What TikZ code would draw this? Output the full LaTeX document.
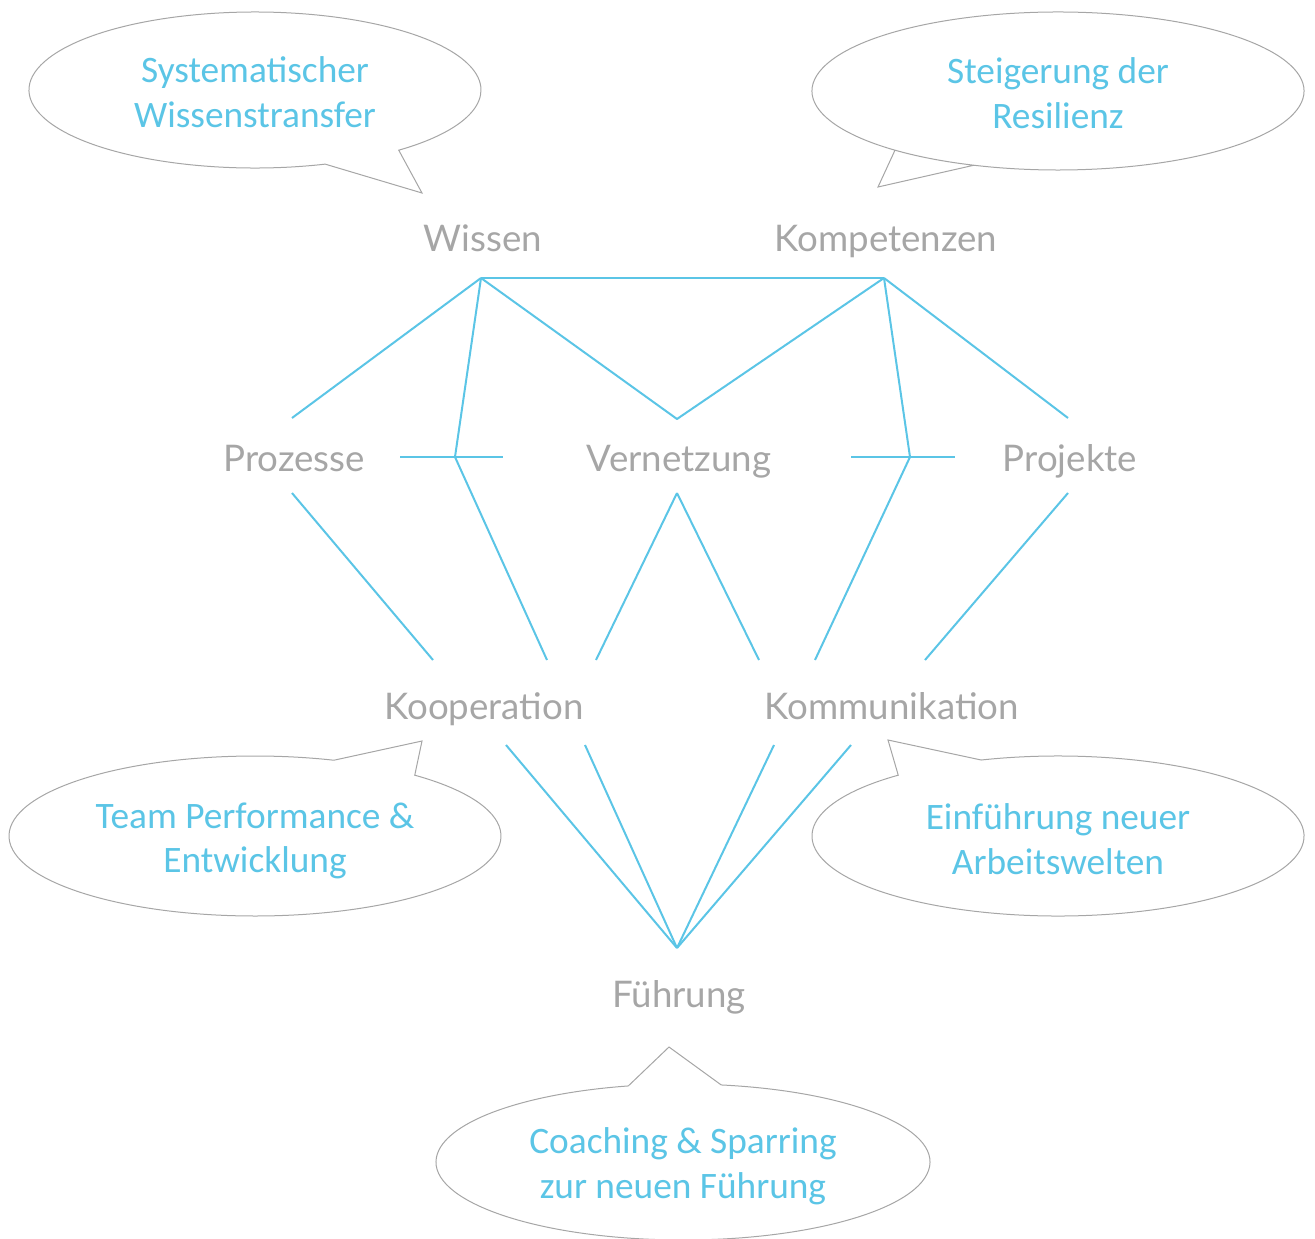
\documentclass[tikz,border=0pt]{standalone}
\usepackage{fontspec}
\newfontfamily\labelfont{Lato}
\newfontfamily\calloutfont{Carlito}
\definecolor{lineblue}{HTML}{5BC5E6}
\definecolor{labelgray}{HTML}{A6A6A6}
\definecolor{outlinegray}{HTML}{A6A6A6}
\begin{document}
\begin{tikzpicture}[x=0.75pt, y=-0.75pt,
  conn/.style={draw=lineblue, line width=1.5pt, line join=round},
  lbl/.style={font=\labelfont\fontsize{27.5}{33}\selectfont, text=labelgray, anchor=base, inner sep=0pt},
  bubble/.style={draw=outlinegray, line width=0.75pt, fill=white},
  ctext/.style={font=\calloutfont\fontsize{28}{33.5}\selectfont, text=lineblue, align=center, inner sep=0pt}]
\useasboundingbox (0,0) rectangle (1315,1239);

% callouts
\draw[bubble] (255,90) ++(71.9:226 and 78) arc[start angle=71.9, end angle=410.5, x radius=226, y radius=78] -- (422,193) -- cycle;
\draw[bubble] (1058,91) ++(110:246 and 79) arc[start angle=110, end angle=491.5, x radius=246, y radius=79] -- (878,187) -- cycle;
\draw[bubble] (255,836) ++(-49.5:246 and 80) arc[start angle=-49.5, end angle=288.7, x radius=246, y radius=80] -- (422,741) -- cycle;
\draw[bubble] (1058,836) ++(251.8:246 and 80) arc[start angle=251.8, end angle=589.5, x radius=246, y radius=80] -- (888,740) -- cycle;
\draw[bubble] (683,1162) ++(278.9:247 and 78) arc[start angle=278.9, end angle=617.2, x radius=247, y radius=78] -- (669,1047) -- cycle;

\node[ctext] (c1) at (255,92) {Systematischer\\Wissenstransfer};
\node[ctext] (c2) at (1058,93) {Steigerung der\\Resilienz};
\node[ctext] (c3) at (255,841) {Team Performance \&\\Entwicklung};
\node[ctext] (c4) at (1058,839) {Einführung neuer\\Arbeitswelten};
\node[ctext] (c5) at (683,1166) {Coaching \& Sparring\\zur neuen Führung};

% labels
\node[lbl] (wissen) at (483,251) {Wissen};
\node[lbl] (kompetenzen) at (886,251) {Kompetenzen};
\node[lbl] (prozesse) at (294,471) {Prozesse};
\node[lbl] (vernetzung) at (679,471) {Vernetzung};
\node[lbl] (projekte) at (1070,471) {Projekte};
\node[lbl] (kooperation) at (484,719) {Kooperation};
\node[lbl] (kommunikation) at (892,719) {Kommunikation};
\node[lbl] (fuehrung) at (679,1007) {Führung};

% connector points
\coordinate (W) at (481,278);
\coordinate (K) at (884,278);
\coordinate (pzT) at (292,418);
\coordinate (pzB) at (292,493);
\coordinate (vT) at (677,419);
\coordinate (vB) at (677,493);
\coordinate (pjT) at (1068,418);
\coordinate (pjB) at (1068,493);
\coordinate (jl) at (455,457);
\coordinate (jr) at (910,457);
\coordinate (hl1) at (400,457);
\coordinate (hl2) at (503,457);
\coordinate (hr1) at (851,457);
\coordinate (hr2) at (955,457);
\coordinate (ko1) at (433,660);
\coordinate (ko2) at (547,660);
\coordinate (ko3) at (596,660);
\coordinate (km1) at (759,660);
\coordinate (km2) at (815,660);
\coordinate (km3) at (925,660);
\coordinate (kb1) at (506,745);
\coordinate (kb2) at (585,745);
\coordinate (mb1) at (774,745);
\coordinate (mb2) at (851,745);
\coordinate (F) at (677,948);

% connectors
\draw[conn] (W) -- (K);
\draw[conn] (W) -- (pzT);
\draw[conn] (W) -- (jl);
\draw[conn] (W) -- (vT) -- (K);
\draw[conn] (K) -- (jr);
\draw[conn] (K) -- (pjT);
\draw[conn] (hl1) -- (hl2);
\draw[conn] (hr1) -- (hr2);
\draw[conn] (jl) -- (ko2);
\draw[conn] (pzB) -- (ko1);
\draw[conn] (vB) -- (ko3);
\draw[conn] (vB) -- (km1);
\draw[conn] (jr) -- (km2);
\draw[conn] (pjB) -- (km3);
\draw[conn] (kb1) -- (F);
\draw[conn] (kb2) -- (F);
\draw[conn] (mb1) -- (F);
\draw[conn] (mb2) -- (F);
\end{tikzpicture}
\end{document}
